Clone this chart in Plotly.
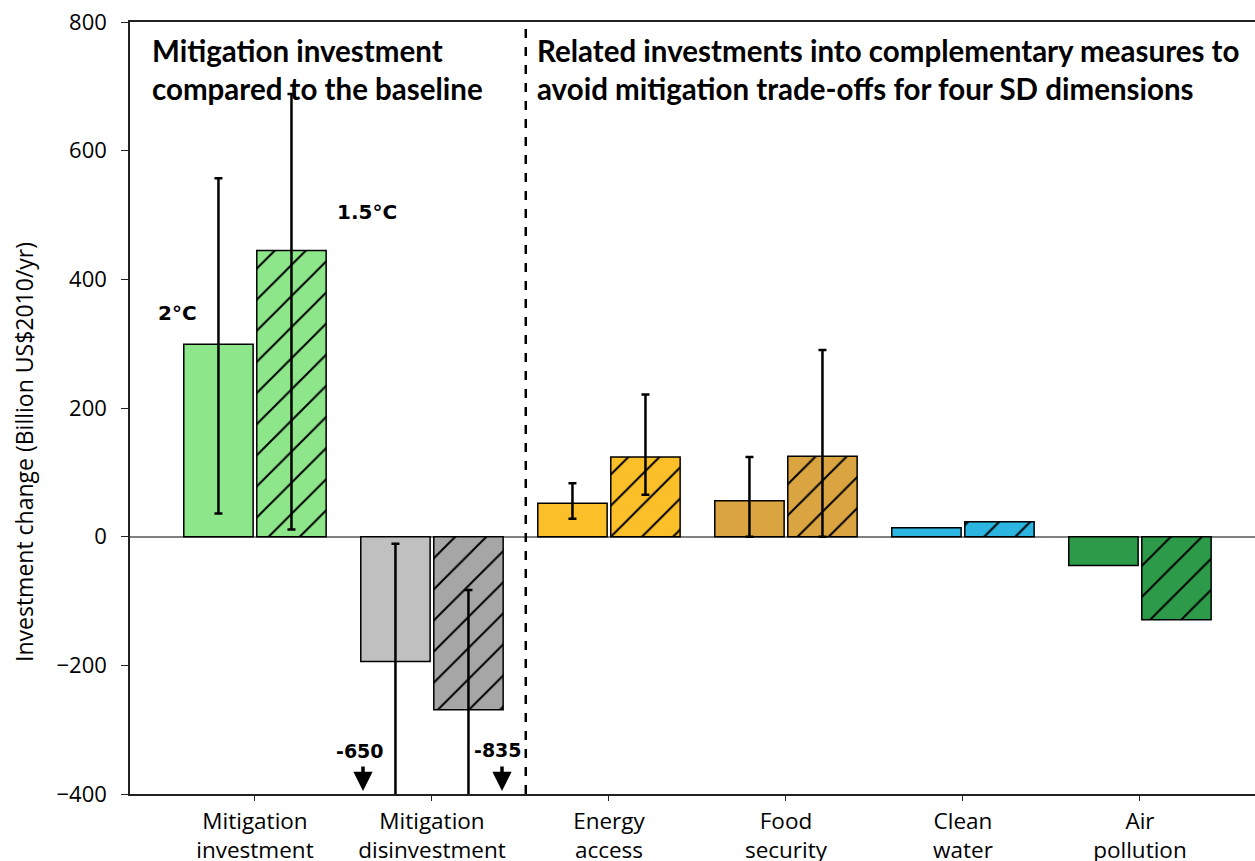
import plotly.graph_objects as go

categories = ["Mitigation<br>investment", "Mitigation<br>disinvestment", "Energy<br>access",
              "Food<br>security", "Clean<br>water", "Air<br>pollution"]
vals_2c = [299, -194, 52, 56, 14, -45]
vals_15c = [445, -269, 124, 125, 23, -129]
upper_2c = [557, -11, 83, 124, None, None]
lower_2c = [36, -650, 28, 0, None, None]
upper_15c = [688, -83, 221, 290, None, None]
lower_15c = [11, -835, 65, 0, None, None]
colors_2c = ["#8EE68A", "#C0C0C0", "#FBBF2A", "#DAA540", "#2BB5E0", "#2C9A48"]
colors_15c = ["#8EE68A", "#A6A6A6", "#FBBF2A", "#DAA540", "#2BB5E0", "#2C9A48"]
yticks = [-400, -200, 0, 200, 400, 600, 800]

fig = go.Figure()


def add_series(name, vals, up, lo, colors, hatched):
    # one trace per bar so each bar keeps its own colour and hatch settings
    for i in range(len(categories)):
        m = dict(color=colors[i], line=dict(color="black", width=1.5))
        if hatched:
            m["pattern"] = dict(shape="/", fgcolor="black", fgopacity=1,
                                fillmode="overlay", size=22, solidity=0.09)
        kw = {}
        if up[i] is not None:
            kw["error_y"] = dict(type="data", symmetric=False,
                                 array=[up[i] - vals[i]], arrayminus=[vals[i] - lo[i]],
                                 color="black", thickness=2.5, width=4)
        fig.add_trace(go.Bar(x=[categories[i]], y=[vals[i]], name=name,
                             offsetgroup=name, marker=m, **kw))


add_series("2°C", vals_2c, upper_2c, lower_2c, colors_2c, False)
add_series("1.5°C", vals_15c, upper_15c, lower_15c, colors_15c, True)

W, H = 1255, 861
L, R, T, B = 130, 0, 22, 67
PW, PH = W - L - R, H - T - B


def px(x):
    return (x - L) / PW


def py(y):
    return (H - B - y) / PH


fig.update_layout(
    width=W, height=H,
    margin=dict(l=L, r=R, t=T, b=B, autoexpand=False),
    paper_bgcolor="white", plot_bgcolor="white",
    barmode="group", bargap=0.175, bargroupgap=0.05,
    showlegend=False,
    font=dict(family="Open Sans", color="black"),
)
fig.update_xaxes(
    categoryorder="array", categoryarray=categories, automargin=False,
    range=[-0.706, 5.65], showline=True, linecolor="#222", linewidth=1.5, mirror=True,
    ticks="outside", ticklen=5, tickcolor="#222", showgrid=False, ticklabelstandoff=1,
    tickfont=dict(family="Open Sans", size=22.5, color="black"),
)
fig.update_yaxes(
    range=[-400, 800], tickvals=yticks, automargin=False,
    showline=True, linecolor="#222", linewidth=1.5,
    ticks="outside", ticklen=7, tickcolor="#222", showgrid=False, ticklabelstandoff=10,
    ticklabeloverflow="allow",
    zeroline=True, zerolinecolor="#808080", zerolinewidth=1.5,
    tickfont=dict(family="Open Sans", size=22, color="black"),
)

# dashed separator
fig.add_shape(type="line", xref="x", yref="paper", x0=1.53, x1=1.53, y0=0, y1=1,
              line=dict(color="black", width=2.5, dash="dash"))

head_font = dict(family="Lato", size=29.5, color="black")
fig.add_annotation(xref="paper", yref="paper", x=px(150), y=py(31), xanchor="left", yanchor="top",
                   text="<b>Mitigation investment<br>compared to the baseline</b>",
                   showarrow=False, align="left", font=head_font)
fig.add_annotation(xref="paper", yref="paper", x=px(535), y=py(31), xanchor="left", yanchor="top",
                   text="<b>Related investments into complementary measures to<br>avoid mitigation trade-offs for four SD dimensions</b>",
                   showarrow=False, align="left", font=head_font)

lab_font = dict(family="DejaVu Sans", size=20, color="black")
fig.add_annotation(xref="paper", yref="paper", x=px(177), y=py(313), text="<b>2°C</b>",
                   xanchor="center", yanchor="middle", showarrow=False, font=lab_font)
fig.add_annotation(xref="paper", yref="paper", x=px(367), y=py(212), text="<b>1.5°C</b>",
                   xanchor="center", yanchor="middle", showarrow=False, font=lab_font)

num_font = dict(family="DejaVu Sans", size=19, color="black")
fig.add_annotation(xref="paper", yref="paper", x=px(360), y=py(751), text="<b>-650</b>",
                   xanchor="center", yanchor="middle", showarrow=False, font=num_font)
fig.add_annotation(xref="paper", yref="paper", x=px(498), y=py(750), text="<b>-835</b>",
                   xanchor="center", yanchor="middle", showarrow=False, font=num_font)
for ax_px in [363, 502]:
    fig.add_annotation(xref="paper", yref="paper", x=px(ax_px), y=py(791), text="",
                       showarrow=True, arrowhead=2, arrowsize=1.1, arrowwidth=3.5,
                       arrowcolor="black", ax=0, ay=-26)

fig.add_annotation(xref="paper", yref="paper", x=px(24), y=py(452), textangle=-90,
                   xanchor="center", yanchor="middle",
                   text="Investment change (Billion US$2010/yr)", showarrow=False,
                   font=dict(family="Open Sans", size=23, color="black"))

fig.write_html("out.html", config={"displayModeBar": False},
               post_script="document.body.style.margin='0';document.body.style.overflow='hidden';")
